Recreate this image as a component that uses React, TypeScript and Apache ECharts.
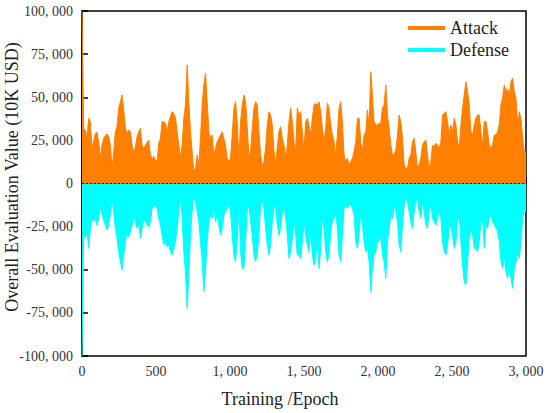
import React, { useEffect, useRef } from "react";
import * as echarts from "echarts";

const attack = [
  100000, 32000, 31000, 26200, 37800, 35800, 20400, 24600, 29000, 29600, 23800, 14600, 22300, 26200, 27700, 28700, 27100, 22300, 8800, 18400, 30000, 32900, 43600, 47400, 51300, 42600, 32000, 29000, 31000, 30000, 22300, 17500, 21300, 27100, 30000, 32000, 22300, 20400, 22300, 23800, 25200, 16500, 14600, 15600, 13600, 13000,
  23300, 26200, 35800, 35800, 34900, 30000, 35800, 38700, 41600, 40700, 37800, 30000, 22300, 14600, 22300, 37800, 45500, 68700, 47400, 30000, 18400, 6900, 8800, 16500, 10700, 26200, 45500, 57100, 63900, 47400, 30000, 26200, 28100, 16500, 20400, 24200, 26200, 28100, 30000, 26200, 22300, 14600, 12700, 14600,
  28100, 43600, 47400, 35800, 12700, 35800, 45500, 51300, 47400, 32000, 16500, 18400, 32000, 43600, 47400, 45500, 30000, 16500, 10700, 12700, 20400, 33900, 41600, 39700, 33900, 18400, 12700, 20400, 30000, 32900, 26200, 22300, 14600, 22300, 35800, 43600, 35800, 24200, 18400, 43600, 39700, 41600, 30000, 18400,
  35800, 37800, 33900, 28100, 37800, 45500, 46500, 45500, 47400, 41600, 32000, 24200, 32000, 46500, 43600, 33900, 28100, 24200, 16500, 28100, 43600, 47400, 35800, 16500, 12700, 14600, 10700, 12700, 14600, 18400, 24200, 37800, 37800, 24200, 18400, 28100, 30000, 42600, 33900, 64800, 51300, 35800, 33900, 33900,
  34900, 34900, 43600, 45500, 57100, 39700, 32000, 22300, 16500, 16500, 19400, 28100, 39700, 35800, 26200, 10700, 8800, 8800, 14600, 16500, 24200, 26200, 18400, 8800, 10700, 14600, 22300, 24200, 25200, 16500, 8800, 12700, 22300, 21300, 23300, 22300, 20400, 24200, 39700, 40700, 41600, 35800, 28100, 33900, 30000,
  37800, 33900, 24200, 20400, 33900, 43600, 51300, 59000, 53200, 45500, 30000, 28100, 33900, 37800, 39700, 39700, 30000, 22300, 35800, 35800, 30000, 22300, 20400, 22300, 28100, 28100, 30000, 33900, 45500, 49600, 57100, 53200, 55000, 51300, 59000, 61000, 53200, 49600, 33900, 41600, 37800, 26200, 18400, 18400,
];

const defense = [
  -100000, -29900, -31800, -27900, -37600, -26000, -20200, -22100, -20200, -24100, -20200, -13400, -18300, -21200, -24100, -27000, -24100, -18300, -8600, -16300, -26000, -31800, -39500, -45300, -50100, -41400, -33700, -27900, -30800, -27900, -24100, -19200, -22100, -26000, -23100, -31800, -26000, -21200, -22100, -24100, -25000, -22100, -14400, -12500, -13400, -14400,
  -20200, -24100, -29900, -35600, -33700, -36600, -35600, -39500, -41400, -37600, -33700, -26000, -16300, -8600, -20200, -39500, -51100, -72400, -53000, -29900, -16300, -6700, -10500, -16300, -22100, -33700, -45300, -62700, -51100, -33700, -22100, -18300, -20200, -14400, -22100, -18300, -24100, -29900, -26000, -18300, -16300, -14400, -12500, -16300,
  -29900, -41400, -45300, -33700, -12500, -39500, -49200, -49200, -33700, -16300, -12500, -22100, -29900, -41400, -45300, -41400, -29900, -12500, -10500, -14400, -26000, -35600, -41400, -35600, -22100, -12500, -14400, -24100, -29900, -26000, -16300, -12500, -20200, -29900, -43400, -39500, -31800, -20200, -29900, -41400, -41400, -43400, -33700, -22100,
  -29900, -35600, -39500, -27900, -41400, -47200, -43400, -31800, -49200, -37600, -18300, -26000, -39500, -45300, -41400, -27900, -22100, -20200, -16300, -26000, -41400, -45300, -29900, -14400, -12500, -14400, -12500, -12500, -14400, -18300, -33700, -37600, -29900, -16300, -24100, -33700, -39500, -37600, -45300, -62700, -49200, -41400, -39500, -33700,
  -33700, -29900, -41400, -45300, -54900, -33700, -26000, -18300, -20200, -12500, -16300, -22100, -35600, -39500, -24100, -12500, -8600, -10500, -16300, -22100, -26000, -16300, -10500, -8600, -16300, -20200, -10500, -16300, -24100, -26000, -16300, -12500, -20200, -22100, -24100, -20200, -14400, -20200, -33700, -39500, -41400, -35600, -26000, -24100, -29900,
  -37600, -33700, -22100, -18300, -33700, -47200, -56900, -58800, -45300, -31800, -26000, -29900, -37600, -37600, -39500, -33700, -22100, -20200, -37600, -24100, -26000, -20200, -18300, -22100, -24100, -26000, -27900, -33700, -45300, -49200, -41400, -51100, -54900, -49200, -54900, -60800, -49200, -45300, -39500, -43400, -33700, -20200, -16300, -16300,
];

const seriesNames = ["Attack", "Defense"];
const seriesColors = ["#FF8000", "#00FFFF"];
const xMax = 3000;
const xStep = 500;
const yMin = -100000;
const yMax = 100000;
const yStep = 25000;
const xTitle = "Training /Epoch";
const yTitle = "Overall Evaluation Value (10K USD)";

// sample grid: evenly spaced epochs across the run
const epochs = attack.map((_, i) => (i * xMax) / (attack.length - 1));

const FONT = "Liberation Serif";

function fmt(v: number): string {
  const s = Math.abs(v)
    .toString()
    .replace(/\B(?=(\d{3})+(?!\d))/g, ", ");
  return v < 0 ? "-" + s : s;
}

export default function App() {
  const ref = useRef<HTMLDivElement>(null);
  useEffect(() => {
    if (!ref.current) return;
    const chart = echarts.init(ref.current, undefined, { renderer: "svg" });
    const axisCommon = {
      axisLine: { show: true, lineStyle: { color: "#000", width: 1.5 } },
      axisTick: { show: true, inside: true, length: 6, lineStyle: { color: "#000", width: 1.5 } },
      splitLine: { show: false },
    };
    chart.setOption({
      animation: false,
      backgroundColor: "#fff",
      textStyle: { fontFamily: FONT },
      grid: {
        left: 82,
        right: 24,
        top: 11,
        bottom: 57,
        show: true,
        borderColor: "#000",
        borderWidth: 1.5,
        backgroundColor: "transparent",
      },
      legend: {
        orient: "vertical",
        left: 408,
        top: 19,
        itemWidth: 37,
        itemHeight: 4,
        itemGap: 4,
        padding: 0,
        data: seriesNames.map((n) => ({ name: n, icon: "rect" })),
        textStyle: { fontFamily: FONT, fontSize: 18, color: "#222" },
      },
      xAxis: {
        type: "value",
        min: 0,
        max: xMax,
        interval: xStep,
        ...axisCommon,
        axisLabel: { fontFamily: FONT, fontSize: 14, color: "#333", margin: 8, formatter: fmt },
      },
      yAxis: {
        type: "value",
        min: yMin,
        max: yMax,
        interval: yStep,
        ...axisCommon,
        axisLabel: { fontFamily: FONT, fontSize: 14, color: "#333", margin: 9, formatter: fmt },
      },
      series: [
        {
          name: seriesNames[0],
          type: "line",
          data: epochs.map((x, i) => [x, attack[i]]),
          symbol: "none",
          showSymbol: false,
          lineStyle: { color: seriesColors[0], width: 1 },
          itemStyle: { color: seriesColors[0] },
          areaStyle: { color: seriesColors[0], opacity: 1 },
          z: 2,
        },
        {
          name: seriesNames[1],
          type: "line",
          data: epochs.map((x, i) => [x, defense[i]]),
          symbol: "none",
          showSymbol: false,
          lineStyle: { color: seriesColors[1], width: 1 },
          itemStyle: { color: seriesColors[1] },
          areaStyle: { color: seriesColors[1], opacity: 1 },
          z: 3,
          markLine: {
            silent: true,
            symbol: "none",
            label: { show: false },
            lineStyle: { color: "#222", type: [2, 2], width: 1 },
            data: [{ yAxis: 0 }],
            z: 5,
          },
        },
      ],
      graphic: [
        {
          type: "text",
          x: 280,
          y: 399,
          style: {
            text: xTitle,
            fontFamily: FONT,
            fontSize: 18,
            fill: "#222",
            textAlign: "center",
            textVerticalAlign: "middle",
          },
        },
        {
          type: "text",
          x: 12,
          y: 177,
          rotation: Math.PI / 2,
          style: {
            text: yTitle,
            fontFamily: FONT,
            fontSize: 18,
            fill: "#222",
            textAlign: "center",
            textVerticalAlign: "middle",
          },
        },
      ],
    });
    return () => chart.dispose();
  }, []);
  return (
    <div
      ref={ref}
      style={{ position: "fixed", left: 0, top: 0, width: 550, height: 413 }}
    />
  );
}
